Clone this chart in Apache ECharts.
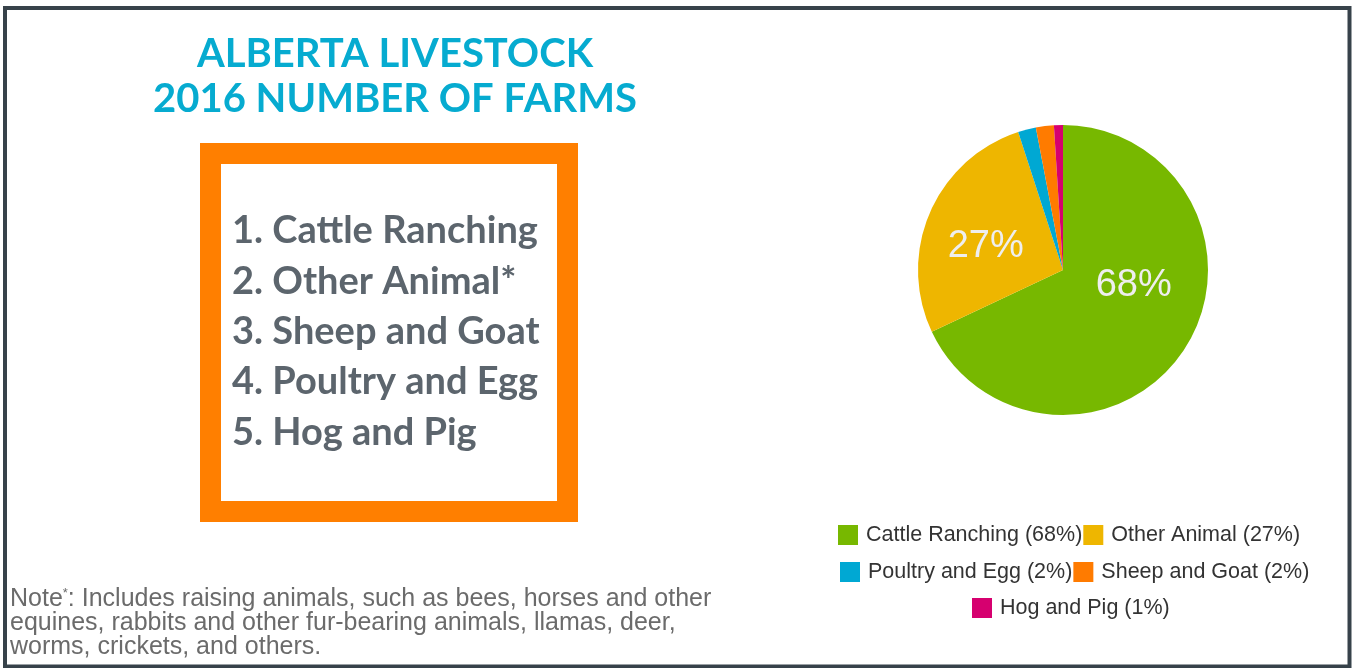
<!DOCTYPE html>
<html>
<head>
<meta charset="utf-8">
<script src="https://cdn.jsdelivr.net/npm/echarts@6/dist/echarts.min.js"></script>
<style>
html,body{margin:0;padding:0;background:#fff;}
#chart{width:1355px;height:668px;}
</style>
</head>
<body>
<div id="chart"></div>
<script>
// ---- data ----
const categories = ['Cattle Ranching', 'Other Animal', 'Poultry and Egg', 'Sheep and Goat', 'Hog and Pig'];
const shares = [68, 27, 2, 2, 1];
const sliceColors = ['#77b800', '#eeb600', '#00a8d3', '#ff7b00', '#d6006f'];
const titleLines = ['ALBERTA LIVESTOCK', '2016 NUMBER OF FARMS'];
const rankList = ['1. Cattle Ranching', '2. Other Animal*', '3. Sheep and Goat', '4. Poultry and Egg', '5. Hog and Pig'];
const noteLines = [
  'Includes raising animals, such as bees, horses and other',
  'equines, rabbits and other fur-bearing animals, llamas, deer,',
  'worms, crickets, and others.'
];
const legendRows = [
  ['Cattle Ranching', 'Other Animal'],
  ['Poultry and Egg', 'Sheep and Goat'],
  ['Hog and Pig']
];

// ---- chart ----
const chart = echarts.init(document.getElementById('chart'), null, {renderer: 'canvas'});

// label placement tweaks (shift via empty lines / padding)
const labelTweaks = {
  'Cattle Ranching': {formatter: '{d}%\n', lineHeight: 50, padding: [0, 0, 0, 14]},
  'Other Animal': {formatter: '\n{d}%', lineHeight: 14, padding: [0, 16, 0, 0]}
};

const pieData = categories.map((name, i) => {
  const item = {name: name, value: shares[i], itemStyle: {color: sliceColors[i]}};
  if (labelTweaks[name]) {
    item.label = Object.assign({show: true}, labelTweaks[name]);
  } else {
    item.label = {show: false};
  }
  return item;
});

const total = shares.reduce((a, b) => a + b, 0);
const legendLeft = [838, 840, 972];
const legendTop = [524, 561, 597];

const legends = legendRows.map((row, r) => ({
  data: row,
  orient: 'horizontal',
  left: legendLeft[r],
  top: legendTop[r],
  itemWidth: 20,
  itemHeight: 20,
  itemGap: 1,
  icon: 'rect',
  selectedMode: false,
  padding: 0,
  textStyle: {fontFamily: 'Liberation Sans, Arial, sans-serif', fontSize: 21.5, color: '#333333', padding: [0, 0, 0, 3]},
  formatter: function (name) {
    const idx = categories.indexOf(name);
    return name + ' (' + Math.round(shares[idx] / total * 100) + '%)';
  }
}));

const noteRich = {
  n: {fontFamily: 'Liberation Sans, Arial, sans-serif', fontSize: 25, fill: '#6b6b6b', lineHeight: 24},
  s: {fontFamily: 'Liberation Sans, Arial, sans-serif', fontSize: 13, fill: '#6b6b6b', verticalAlign: 'top', padding: [0, 0, 10, 0], lineHeight: 24}
};

const option = {
  animation: false,
  backgroundColor: '#ffffff',
  title: {
    text: titleLines.join('\n'),
    left: 390,
    top: 27,
    textAlign: 'center',
    textStyle: {
      fontFamily: 'Lato, sans-serif',
      fontWeight: 'bold',
      fontSize: 40,
      lineHeight: 45,
      color: '#06abd0'
    }
  },
  legend: legends,
  graphic: [
    {
      type: 'rect',
      shape: {x: 5, y: 8, width: 1344.5, height: 658.5},
      style: {fill: 'none', stroke: '#37424a', lineWidth: 4},
      silent: true
    },
    {
      type: 'rect',
      shape: {x: 210.5, y: 153.5, width: 357, height: 358},
      style: {fill: '#ffffff', stroke: '#ff7f00', lineWidth: 21},
      silent: true
    },
    {
      type: 'text',
      x: 232,
      y: 206,
      style: {
        text: rankList.join('\n'),
        fontFamily: 'Lato, sans-serif',
        fontWeight: 'bold',
        fontSize: 38,
        lineHeight: 50.3,
        fill: '#5c656d',
        textAlign: 'left',
        textVerticalAlign: 'top'
      },
      silent: true
    },
    {
      type: 'text',
      x: 10,
      y: 587,
      style: {
        text: '{n|Note}{s|*}{n|: ' + noteLines[0] + '}\n{n|' + noteLines[1] + '}\n{n|' + noteLines[2] + '}',
        rich: noteRich,
        textAlign: 'left',
        textVerticalAlign: 'top'
      },
      silent: true
    }
  ],
  series: [{
    type: 'pie',
    center: [1063, 270],
    radius: 145,
    startAngle: 90,
    clockwise: true,
    avoidLabelOverlap: false,
    silent: true,
    label: {
      position: 'inside',
      formatter: '{d}%',
      fontFamily: 'Liberation Sans, Arial, sans-serif',
      fontSize: 38,
      color: '#eeeeee'
    },
    labelLine: {show: false},
    itemStyle: {borderWidth: 0},
    data: pieData
  }]
};

chart.setOption(option);
</script>
</body>
</html>
